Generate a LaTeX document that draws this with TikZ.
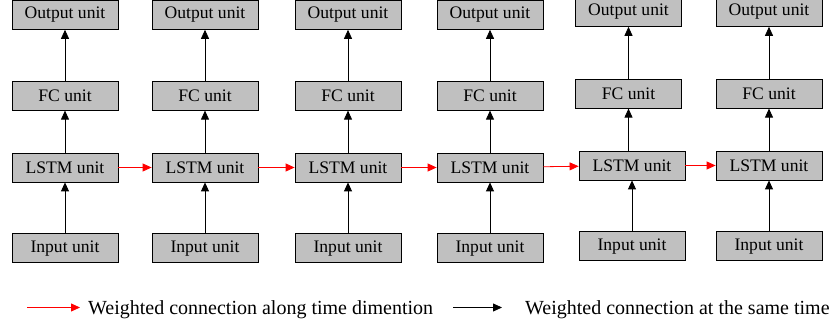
\documentclass[tikz,border=0pt]{standalone}
\usepackage{fontspec}
\setmainfont{Liberation Serif}
\usepackage{tikz}
\usetikzlibrary{positioning,arrows.meta}

\begin{document}
\begin{tikzpicture}[x=1pt, y=1pt,
    unit/.style={rectangle, draw, line width=0.8pt, fill={rgb,255:red,192;green,192;blue,192}, minimum width=106pt, minimum height=29pt, inner sep=0pt, text centered, font=\fontsize{17.6}{20}\selectfont},
    arrow/.style={line width=0.8pt, -{Triangle[length=9pt,width=8pt]}},
    timearrow/.style={arrow, red},
    legend/.style={anchor=west, inner sep=0pt, font=\fontsize{20}{23}\selectfont}]

    \useasboundingbox (0,0) rectangle (829,326);

    % LSTM chain
    \node (lstm1) [unit] at (65,158.5) {LSTM unit};
    \node (lstm2) [unit] at (205,158.5) {LSTM unit};
    \node (lstm3) [unit] at (348,158.5) {LSTM unit};
    \node (lstm4) [unit] at (490,158.5) {LSTM unit};
    \node (lstm5) [unit] at (632,160.5) {LSTM unit};
    \node (lstm6) [unit] at (769,160.5) {LSTM unit};

    \node (fc1) [unit, above=42pt of lstm1] {FC unit};
    \node (fc2) [unit, above=42pt of lstm2] {FC unit};
    \node (fc3) [unit, above=42pt of lstm3] {FC unit};
    \node (fc4) [unit, above=42pt of lstm4] {FC unit};
    \node (fc5) [unit, above=42pt of lstm5, xshift=-3.5pt] {FC unit};
    \node (fc6) [unit, above=42pt of lstm6] {FC unit};

    \node (out1) [unit, above=51pt of fc1] {Output unit};
    \node (out2) [unit, above=51pt of fc2] {Output unit};
    \node (out3) [unit, above=51pt of fc3] {Output unit};
    \node (out4) [unit, above=51pt of fc4] {Output unit};
    \node (out5) [unit, above=52pt of fc5] {Output unit};
    \node (out6) [unit, above=52pt of fc6] {Output unit};

    \node (in1) [unit, below=51pt of lstm1] {Input unit};
    \node (in2) [unit, below=51pt of lstm2] {Input unit};
    \node (in3) [unit, below=51pt of lstm3] {Input unit};
    \node (in4) [unit, below=51pt of lstm4] {Input unit};
    \node (in5) [unit, below=51pt of lstm5] {Input unit};
    \node (in6) [unit, below=51pt of lstm6] {Input unit};

    \draw [timearrow] (lstm1) -- (lstm2);
    \draw [timearrow] (lstm2) -- (lstm3);
    \draw [timearrow] (lstm3) -- (lstm4);
    \draw [timearrow] (lstm4) -- (lstm5);
    \draw [timearrow] (lstm5) -- (lstm6);

    \draw [arrow] (in1) -- (lstm1);
    \draw [arrow] (in2) -- (lstm2);
    \draw [arrow] (in3) -- (lstm3);
    \draw [arrow] (in4) -- (lstm4);
    \draw [arrow] (in5) -- (lstm5);
    \draw [arrow] (in6) -- (lstm6);

    \draw [arrow] (lstm1) -- (fc1);
    \draw [arrow] (lstm2) -- (fc2);
    \draw [arrow] (lstm3) -- (fc3);
    \draw [arrow] (lstm4) -- (fc4);
    \draw [arrow] (lstm5.north -| fc5) -- (fc5);
    \draw [arrow] (lstm6) -- (fc6);

    \draw [arrow] (fc1) -- (out1);
    \draw [arrow] (fc2) -- (out2);
    \draw [arrow] (fc3) -- (out3);
    \draw [arrow] (fc4) -- (out4);
    \draw [arrow] (fc5) -- (out5);
    \draw [arrow] (fc6) -- (out6);

    % legend
    \coordinate (redstart) at (27,18.5);
    \coordinate (redend) at (80,18.5);
    \coordinate (blackstart) at (453,18.5);
    \coordinate (blackend) at (502,18.5);
    \node (timetext) [legend] at (88,16.5) {Weighted connection along time dimention};
    \node (sametext) [legend] at (525,16.5) {Weighted connection at the same time};
    \draw [timearrow] (redstart) -- (redend);
    \draw [arrow] (blackstart) -- (blackend);
\end{tikzpicture}
\end{document}
